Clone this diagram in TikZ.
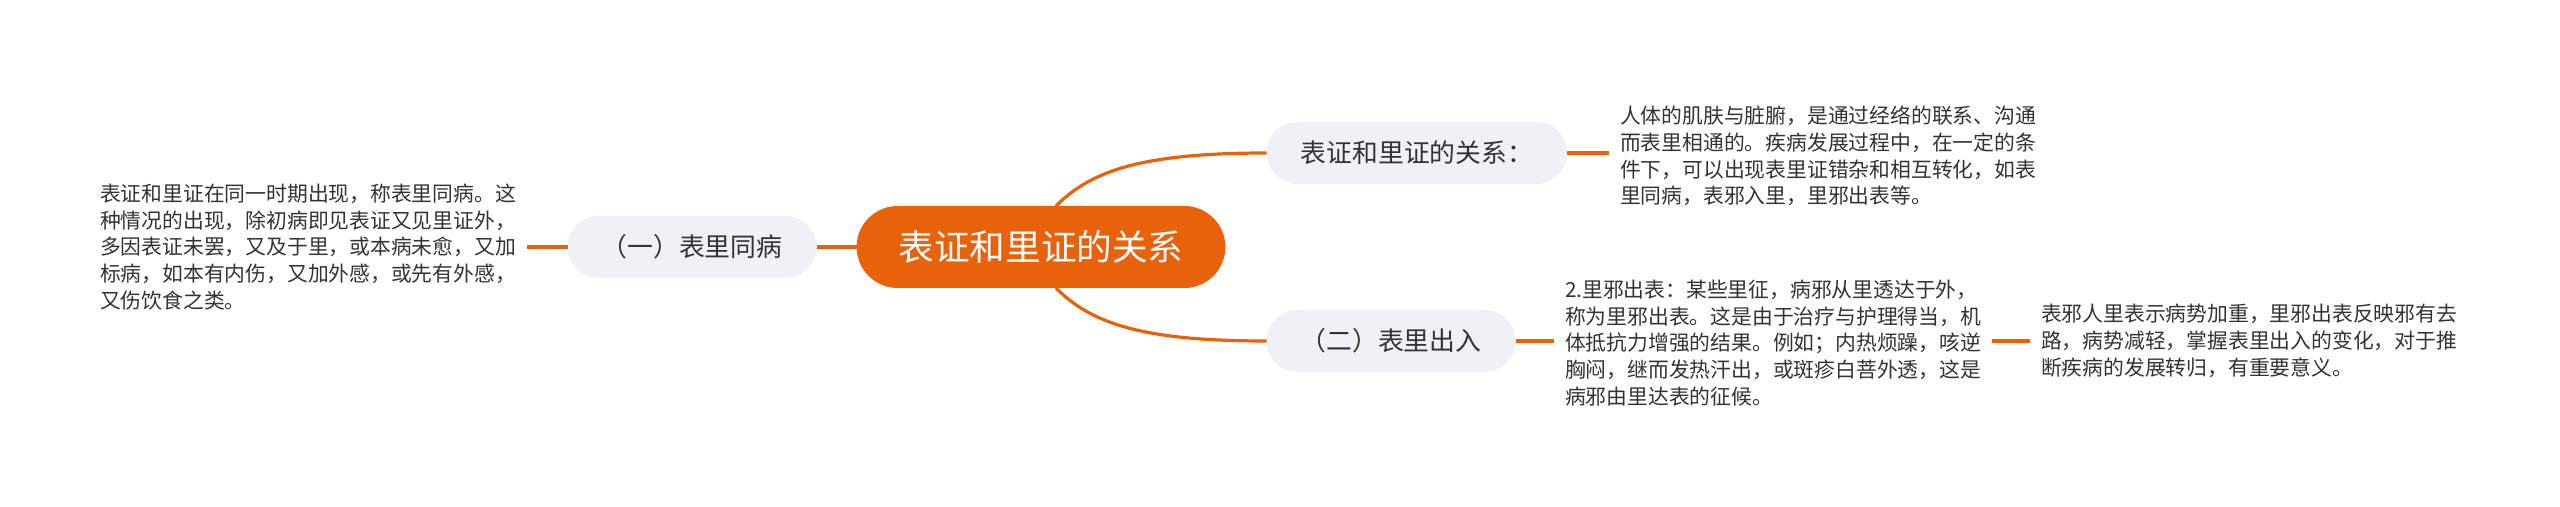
\documentclass[tikz,border=0pt]{standalone}
\usepackage{fontspec}
\setmainfont{Noto Sans CJK SC}
\definecolor{mindorange}{HTML}{E8620C}
\definecolor{topicgray}{HTML}{EEF1F5}
\definecolor{inkgray}{HTML}{333333}
\begin{document}
\begin{tikzpicture}[x=0.5pt,y=-0.5pt,inner sep=0pt,outer sep=0pt,
rootnode/.style={fill=mindorange,rectangle,rounded corners=20.5pt,inner xsep=21pt,minimum height=41pt,text=white,font=\fontsize{17.8}{20}\selectfont},
topicnode/.style={fill=topicgray,rectangle,rounded corners=15.5pt,inner xsep=17.1pt,minimum height=31pt,text=inkgray,font=\fontsize{12.9}{15}\selectfont},
notetext/.style={anchor=west,align=left,outer xsep=5.5pt,text=inkgray,font=\fontsize{10.4}{13.35}\selectfont},
link/.style={draw=mindorange,line width=1.6pt}]

\useasboundingbox (0,0) rectangle (2560,507);

\draw (1041,247) node[rootnode] (root) {表证和里证的关系};
\draw (692,247) node[topicnode] (same) {（一）表里同病};
\draw (1417,153) node[topicnode] (rel) {表证和里证的关系：};
\draw (1391,341) node[topicnode] (inout) {（二）表里出入};

\draw (89,247) node[notetext] (sametext) {表证和里证在同一时期出现，称表里同病。这\\种情况的出现，除初病即见表证又见里证外，\\多因表证未罢，又及于里，或本病未愈，又加\\标病，如本有内伤，又加外感，或先有外感，\\又伤饮食之类。};
\draw (1609,156) node[notetext] (reltext) {人体的肌肤与脏腑，是通过经络的联系、沟通\\而表里相通的。疾病发展过程中，在一定的条\\件下，可以出现表里证错杂和相互转化，如表\\里同病，表邪入里，里邪出表等。};
\draw (1554,343) node[notetext] (inouttext) {2.里邪出表：某些里征，病邪从里透达于外，\\称为里邪出表。这是由于治疗与护理得当，机\\体抵抗力增强的结果。例如；内热烦躁，咳逆\\胸闷，继而发热汗出，或斑疹白菩外透，这是\\病邪由里达表的征候。};
\draw (2030,341) node[notetext] (meantext) {表邪人里表示病势加重，里邪出表反映邪有去\\路，病势减轻，掌握表里出入的变化，对于推\\断疾病的发展转归，有重要意义。};

\draw[link] (root) -- (same);
\draw[link] (same) -- (sametext);
\draw[link] (root.70) .. controls +(35,-35) and +(-126,0) .. (rel.west);
\draw[link] (root.-70) .. controls +(35,35) and +(-126,0) .. (inout.west);
\draw[link] (rel.east) -- (rel.east -| reltext.west);
\draw[link] (inout.east) -- (inout.east -| inouttext.west);
\draw[link] (inouttext.east |- meantext.west) -- (meantext.west);
\end{tikzpicture}
\end{document}
